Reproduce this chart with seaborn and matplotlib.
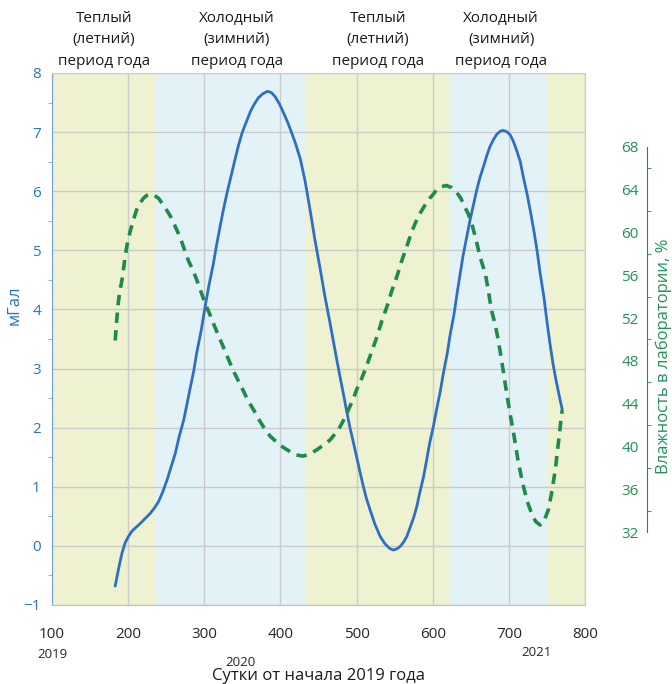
import matplotlib
matplotlib.use("Agg")
import matplotlib.pyplot as plt
import matplotlib.transforms as mtransforms
from matplotlib.ticker import FixedLocator
import seaborn as sns
import pandas as pd
import numpy as np

# --- data ---
gravity_day = [183, 186, 189, 192, 196, 200, 205, 210, 216, 222, 229, 235, 240, 245,
               251, 256, 262, 267, 273, 277, 281, 286, 290, 296, 301, 306, 312, 316,
               321, 325, 330, 336, 340, 345, 350, 356, 361, 366, 371, 377, 383, 388,
               393, 399, 405, 410, 415, 420, 426, 432, 439, 445, 452, 458, 465, 470,
               474, 478, 483, 487, 491, 496, 500, 505, 509, 513, 518, 524, 531, 537,
               543, 548, 553, 558, 562, 566, 570, 575, 579, 583, 588, 592, 596, 601,
               605, 610, 614, 619, 623, 628, 632, 636, 640, 645, 649, 654, 658, 662,
               667, 671, 675, 680, 684, 688, 692, 697, 702, 706, 710, 715, 719, 724,
               728, 733, 737, 741, 746, 750, 754, 758, 762, 766, 770]
gravity_mgal = [-0.68, -0.48, -0.29, -0.12, 0.05, 0.15, 0.25, 0.31, 0.38, 0.46, 0.55,
                0.65, 0.75, 0.9, 1.11, 1.32, 1.57, 1.85, 2.13, 2.38, 2.64, 2.95, 3.26,
                3.65, 4.04, 4.4, 4.78, 5.08, 5.42, 5.68, 5.98, 6.3, 6.52, 6.78, 7.0,
                7.2, 7.36, 7.48, 7.58, 7.65, 7.69, 7.67, 7.6, 7.47, 7.3, 7.15, 6.98,
                6.8, 6.55, 6.2, 5.68, 5.2, 4.7, 4.25, 3.78, 3.43, 3.15, 2.88, 2.55,
                2.28, 2.02, 1.74, 1.51, 1.22, 1.0, 0.8, 0.6, 0.37, 0.16, 0.04, -0.04,
                -0.07, -0.05, 0.0, 0.07, 0.16, 0.3, 0.48, 0.66, 0.9, 1.17, 1.45, 1.74,
                2.03, 2.3, 2.62, 2.92, 3.25, 3.58, 3.92, 4.27, 4.6, 4.92, 5.25, 5.51,
                5.8, 6.03, 6.23, 6.43, 6.6, 6.75, 6.88, 6.96, 7.01, 7.03, 7.01, 6.95,
                6.84, 6.7, 6.5, 6.24, 5.95, 5.68, 5.32, 5.0, 4.62, 4.21, 3.8, 3.42,
                3.08, 2.8, 2.55, 2.31]

humid_day = [183, 185, 187, 189, 192, 196, 199, 203, 207, 211, 216, 220, 225, 229, 234,
             240, 247, 255, 261, 268, 273, 279, 285, 290, 296, 301, 307, 312, 319, 325,
             332, 338, 345, 352, 358, 365, 371, 378, 386, 395, 404, 413, 421, 430, 439,
             448, 456, 465, 472, 478, 484, 489, 495, 500, 507, 513, 520, 527, 533, 540,
             546, 553, 559, 566, 572, 579, 585, 592, 596, 601, 605, 612, 618, 625, 631,
             637, 642, 647, 651, 656, 660, 664, 669, 673, 677, 682, 686, 691, 696, 701,
             707, 712, 718, 724, 730, 735, 741, 746, 752, 756, 761, 765, 770]
humid_pct = [49.9, 51.8, 53.4, 54.5, 55.6, 57.7, 59.0, 60.2, 61.2, 62.1, 62.8, 63.2,
             63.5, 63.6, 63.5, 63.2, 62.5, 61.6, 60.7, 59.6, 58.6, 57.4, 56.5, 55.6,
             54.4, 53.4, 52.4, 51.5, 50.3, 49.3, 48.1, 47.1, 46.1, 45.1, 44.2, 43.4,
             42.6, 41.8, 41.0, 40.4, 39.9, 39.5, 39.2, 39.1, 39.3, 39.7, 40.1, 40.6,
             41.2, 41.8, 42.6, 43.4, 44.3, 45.3, 46.4, 47.5, 48.9, 50.3, 51.7, 53.1,
             54.5, 55.9, 57.3, 58.7, 60.0, 61.2, 62.0, 62.8, 63.2, 63.6, 64.0, 64.3,
             64.4, 64.2, 63.8, 63.2, 62.4, 61.7, 60.9, 59.6, 58.4, 57.3, 56.2, 54.6,
             52.8, 51.4, 50.0, 47.8, 45.5, 43.3, 40.9, 38.7, 36.6, 34.9, 33.7, 33.0,
             32.65, 33.0, 34.1, 35.6, 37.8, 40.3, 43.4]

# seasons: band edges and kind
season_edges = [100, 235, 432, 622, 751, 800]
season_kind = ["warm", "cold", "warm", "cold", "warm"]
season_titles = ["Теплый\n(летний)\nпериод года", "Холодный\n(зимний)\nпериод года",
                 "Теплый\n(летний)\nпериод года", "Холодный\n(зимний)\nпериод года"]
season_title_x = [168, 343, 528, 690]

year_labels = ["2019", "2020", "2021"]
year_label_x = [100, 348, 736]
year_label_y = [1 - 654 / 684, 1 - 663 / 684, 1 - 652 / 684]

blue = "#2E6FC4"
blue_txt = "#2E75B6"
green = "#1E8A4C"
green_txt = "#239158"
grid_c = "#CBCBCB"
band_c = {"warm": "#EEF2D1", "cold": "#E3F2F6"}

sns.set_style("white")
plt.rcParams["font.family"] = ["Open Sans", "DejaVu Sans"]

fig = plt.figure(figsize=(6.72, 6.84), dpi=100)
ax = fig.add_axes([52 / 672, 1 - 605 / 684, 533 / 672, 532 / 684])

for i, kind in enumerate(season_kind):
    ax.axvspan(season_edges[i], season_edges[i + 1], color=band_c[kind], lw=0, zorder=0)

df_g = pd.DataFrame({"day": gravity_day, "mgal": gravity_mgal})
sns.lineplot(data=df_g, x="day", y="mgal", ax=ax, color=blue, lw=2.0, zorder=3)

ax.set_xlim(100, 800)
ax.set_ylim(-1, 8)
ax.set_xticks(range(100, 801, 100))
ax.set_yticks(range(-1, 9))
ax.yaxis.set_minor_locator(FixedLocator(np.arange(-0.5, 8, 1.0)))
ax.grid(True, color=grid_c, lw=1.0, zorder=1)
ax.set_axisbelow(True)
ax.set_xlabel("")
ax.set_ylabel("")
for s in ["top", "right"]:
    ax.spines[s].set_color(grid_c)
ax.spines["bottom"].set_color("#BFBFBF")
ax.spines["left"].set_color("#6FA3D8")
ax.tick_params(axis="x", direction="out", length=5, color="#BFBFBF",
               labelsize=11, labelcolor="#262626", pad=11)
ax.tick_params(axis="y", which="major", length=0, labelsize=11, labelcolor=blue_txt, pad=8)
ax.tick_params(axis="y", which="minor", left=True, direction="out", length=3, color="#6FA3D8")

# secondary axis for humidity, its spine sits right of the plot area
x_right = 100 + 700 * (647 - 52) / 533
ax2 = fig.add_axes([52 / 672, 1 - 532 / 684, 595 / 672, 385 / 684])
ax2.patch.set_alpha(0)
df_h = pd.DataFrame({"day": humid_day, "pct": humid_pct})
sns.lineplot(data=df_h, x="day", y="pct", ax=ax2, color=green, lw=2.6,
             linestyle=(0, (2.9, 2.0)))
ax2.set_xlim(100, x_right)
ax2.set_ylim(32, 68)
ax2.set_xticks([])
ax2.set_xlabel("")
ax2.set_ylabel("")
for s in ["top", "left", "bottom"]:
    ax2.spines[s].set_visible(False)
ax2.spines["right"].set_color(green)
ax2.yaxis.tick_right()
ax2.set_yticks(range(32, 69, 4))
ax2.yaxis.set_minor_locator(FixedLocator(range(34, 67, 4)))
ax2.tick_params(axis="y", which="major", length=0, pad=-6, labelsize=11, labelcolor=green_txt)
ax2.tick_params(axis="y", which="minor", right=True, direction="out", length=3, color=green)
for lbl in ax2.get_yticklabels():
    lbl.set_horizontalalignment("right")

# season captions above the plot
trans = mtransforms.blended_transform_factory(ax.transData, fig.transFigure)
for tx, title in zip(season_title_x, season_titles):
    ax.text(tx, 1 - 40 / 684, title, transform=trans, ha="center", va="center",
            fontsize=11, color="#1A1A1A", linespacing=1.55)

for yx, yl, yy in zip(year_label_x, year_labels, year_label_y):
    ax.text(yx, yy, yl, transform=trans, ha="center", va="center", fontsize=9.5, color="#262626")

fig.text(319 / 672, 1 - 676 / 684, "Сутки от начала 2019 года", ha="center", va="center",
         fontsize=12, color="#1A1A1A")
fig.text(15 / 672, 1 - 305 / 684, "мГал", rotation=90, ha="center", va="center",
         fontsize=12, color=blue_txt)
fig.text(664 / 672, 1 - 356 / 684, "Влажность в лаборатории, %", rotation=90,
         ha="center", va="center", fontsize=12, color=green_txt)

fig.savefig("out.png", dpi=100)
